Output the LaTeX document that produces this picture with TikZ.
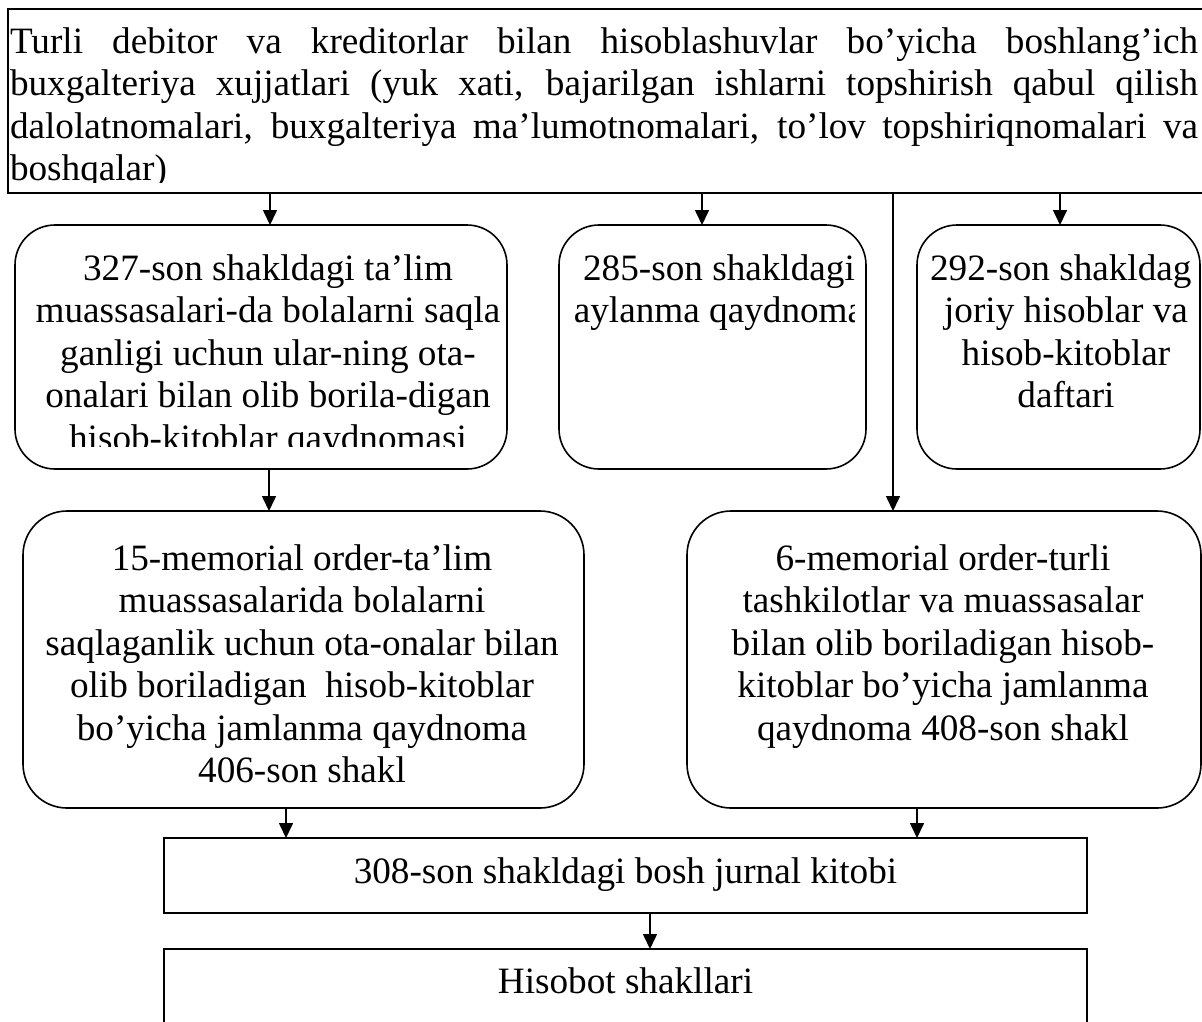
\documentclass[tikz,border=0pt]{standalone}
\usepackage{fontspec}
\setmainfont{Liberation Serif}
\usetikzlibrary{arrows.meta}
% centred block of lines whose anchor is the baseline of the first line
\newcommand\textlines[2]{\vtop{\hsize=#1\parindent=0pt\centering #2}}
% one justified line of the source-document box
\newcommand\jline[1]{\makebox[1188pt][s]{#1}\par}
\begin{document}
\begin{tikzpicture}[x=1pt,y=-1pt,
  box/.style={draw, line width=1.6pt, inner sep=0pt, outer sep=0pt},
  rbox/.style={box, rounded corners=40pt},
  bigrbox/.style={box, rounded corners=44pt},
  arr/.style={line width=1.6pt, -{Triangle[width=14pt,length=15pt]}},
  txt/.style={inner sep=0pt, outer sep=0pt, anchor=base,
              font=\fontsize{37.2}{42.5}\selectfont}]

\useasboundingbox (0,0) rectangle (1202,1021);

% ---- boxes ----
\node[box, minimum width=1204pt, minimum height=184pt] (src) at (610,101) {};
\node[rbox, minimum width=492pt, minimum height=244pt] (A) at (261,347) {};
\node[rbox, minimum width=307pt, minimum height=244pt] (B) at (712.5,347) {};
\node[rbox, minimum width=283pt, minimum height=244pt] (D) at (1058.5,347) {};
\node[bigrbox, minimum width=561pt, minimum height=297pt] (E) at (303.5,659.5) {};
\node[bigrbox, minimum width=514pt, minimum height=297pt] (F) at (944,659.5) {};
\node[box, minimum width=923pt, minimum height=75pt] (J) at (625.5,875.5) {};
\node[box, minimum width=923pt, minimum height=91pt] (H) at (625.5,994.5) {};

% ---- texts ----
\begin{scope}
  \clip (8,9) rectangle (1202,182);
  \node[txt, anchor=base west] (srcText) at (10,53) {\vtop{\hsize=1188pt\parindent=0pt
    \jline{Turli debitor va kreditorlar bilan hisoblashuvlar bo’yicha boshlang’ich}
    \jline{buxgalteriya xujjatlari (yuk xati, bajarilgan ishlarni topshirish qabul qilish}
    \jline{dalolatnomalari, buxgalteriya ma’lumotnomalari, to’lov topshiriqnomalari va}
    boshqalar)}};
\end{scope}

\begin{scope}
  \clip (15,225) rectangle (507,446);
  \node[txt] (AText) at (268,280) {\textlines{480pt}{327-son shakldagi ta’lim\\
    muassasalari-da bolalarni saqla\\ ganligi uchun ular-ning ota-\\
    onalari bilan olib borila-digan\\ hisob-kitoblar qaydnomasi}};
\end{scope}

\begin{scope}
  \clip (559,225) rectangle (854,446);
  \node[txt] (BText) at (719,280) {\textlines{400pt}{285-son shakldagi\\ aylanma qaydnoma}};
\end{scope}

\begin{scope}
  \clip (917,225) rectangle (1190,446);
  \node[txt] (DText) at (1066,280) {\textlines{400pt}{292-son shakldagi\\ joriy hisoblar va\\
    hisob-kitoblar\\ daftari}};
\end{scope}

\node[txt] (EText) at (302,570) {\textlines{560pt}{15-memorial order-ta’lim\\
  muassasalarida bolalarni\\ saqlaganlik uchun ota-onalar bilan\\
  olib boriladigan \ hisob-kitoblar\\ bo’yicha jamlanma qaydnoma\\ 406-son shakl}};

\node[txt] (FText) at (943,570) {\textlines{520pt}{6-memorial order-turli\\
  tashkilotlar va muassasalar\\ bilan olib boriladigan hisob-\\
  kitoblar bo’yicha jamlanma\\ qaydnoma 408-son shakl}};

\node[txt] (JText) at (625.5,883) {308-son shakldagi bosh jurnal kitobi};
\node[txt] (HText) at (625.5,993) {Hisobot shakllari};

% ---- connector columns ----
\coordinate (xa) at (270,0);
\coordinate (xb) at (702,0);
\coordinate (xf) at (893,0);
\coordinate (xd) at (1060,0);
\coordinate (xe) at (269,0);
\coordinate (xj1) at (286,0);
\coordinate (xj2) at (917,0);
\coordinate (xh) at (650,0);

% ---- connectors ----
\draw[arr] (src.south -| xa) -- (A.north -| xa);
\draw[arr] (src.south -| xb) -- (B.north -| xb);
\draw[arr] (src.south -| xf) -- (F.north -| xf);
\draw[arr] (src.south -| xd) -- (D.north -| xd);
\draw[arr] (A.south -| xe) -- (E.north -| xe);
\draw[arr] (E.south -| xj1) -- (J.north -| xj1);
\draw[arr] (F.south -| xj2) -- (J.north -| xj2);
\draw[arr] (J.south -| xh) -- (H.north -| xh);
\end{tikzpicture}
\end{document}
